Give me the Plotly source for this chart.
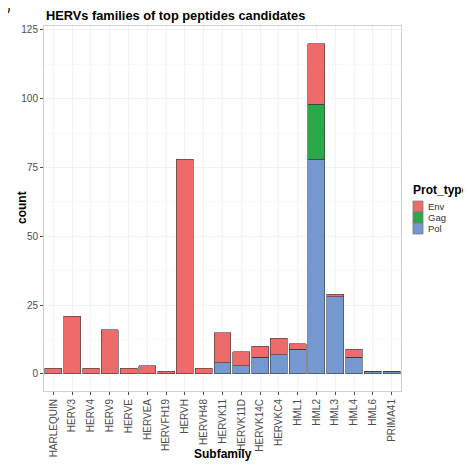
import plotly.graph_objects as go

subfamilies = ['HARLEQUIN', 'HERV3', 'HERV4', 'HERV9', 'HERVE', 'HERVEA', 'HERVFH19',
               'HERVH', 'HERVH48', 'HERVK11', 'HERVK11D', 'HERVK14C', 'HERVKC4',
               'HML1', 'HML2', 'HML3', 'HML4', 'HML6', 'PRIMA41']
pol = [0, 0, 0, 0, 0, 0, 0, 0, 0, 4, 3, 6, 7, 9, 78, 28, 6, 1, 1]
gag = [0, 0, 0, 0, 0, 0, 0, 0, 0, 0, 0, 0, 0, 0, 20, 0, 0, 0, 0]
env = [2, 21, 2, 16, 2, 3, 1, 78, 2, 11, 5, 4, 6, 2, 22, 1, 3, 0, 0]

colors = {'Env': '#EF6B6B', 'Gag': '#2BA84A', 'Pol': '#7598D0'}

# page body has an 8px margin, so the figure is a bit smaller and coords are shifted
OFF = 8
FW, FH = 471 - OFF, 469 - OFF
# panel in page pixels
L, R, T, B = 44, 401, 26, 391
W, H = R - L, B - T
def px(x):
    return (x - L) / W
def py(y):
    return (B - y) / H

fig = go.Figure()
# stack bottom to top: Pol, Gag, Env
for name, vals in [('Pol', pol), ('Gag', gag), ('Env', env)]:
    fig.add_trace(go.Bar(x=subfamilies, y=vals, name=name, showlegend=False,
                         marker=dict(color=colors[name],
                                     line=dict(color='#3a3a3a', width=0.6)),
                         width=0.9))

axis_font = dict(family='Liberation Sans, Arial', size=10, color='#4d4d4d')
fig.update_layout(
    barmode='stack',
    width=FW, height=FH,
    margin=dict(l=L - OFF, r=471 - R, t=T - OFF, b=469 - B),
    plot_bgcolor='white', paper_bgcolor='white',
    font=dict(family='Liberation Sans, Arial', color='black'),
    title=dict(text='<b>HERVs families of top peptides candidates</b>',
               x=(46 - OFF) / FW, xanchor='left', y=1 - (16 - OFF) / FH, yanchor='middle',
               font=dict(size=12.8, color='black')),
)
fig.update_xaxes(automargin=False, tickangle=-90, tickfont=axis_font, ticks='outside', ticklen=3,
                 tickcolor='#4d4d4d', showgrid=True, gridcolor='#F2F2F2', gridwidth=1,
                 showline=True, linecolor='#D0D0D0', linewidth=1, mirror=True)
fig.update_yaxes(automargin=False, range=[-6.2, 126.4], tickvals=[0, 25, 50, 75, 100, 125],
                 tickfont=axis_font, ticks='outside', ticklen=3, tickcolor='#4d4d4d',
                 showgrid=True, gridcolor='#F2F2F2', gridwidth=1, zeroline=False,
                 minor=dict(tickvals=[12.5, 37.5, 62.5, 87.5, 112.5], showgrid=True,
                            gridcolor='#F8F8F8', ticks=''),
                 showline=True, linecolor='#D0D0D0', linewidth=1, mirror=True)

# axis titles
fig.add_annotation(text='<b>Subfamily</b>', xref='paper', yref='paper', x=px(223), y=py(463),
                   showarrow=False, font=dict(size=12, color='black'))
fig.add_annotation(text='<b>count</b>', xref='paper', yref='paper', x=px(13), y=py(208),
                   textangle=-90, showarrow=False, font=dict(size=12, color='black'))
# cut-off panel tag
fig.add_annotation(text='D', xref='paper', yref='paper', x=px(OFF + 4), y=py(OFF + 2),
                   xanchor='right', yanchor='middle', showarrow=False,
                   font=dict(size=13, color='black'))

# manual legend
fig.add_annotation(text='<b>Prot_type</b>', xref='paper', yref='paper', x=px(412), y=py(190),
                   xanchor='left', yanchor='middle', showarrow=False, borderpad=0,
                   font=dict(size=12, color='black'))
for i, name in enumerate(['Env', 'Gag', 'Pol']):
    y0 = 201 + i * 11
    fig.add_shape(type='rect', xref='paper', yref='paper',
                  x0=px(413), x1=px(423), y0=py(y0), y1=py(y0 + 11),
                  fillcolor=colors[name], line=dict(color='#7a7a7a', width=0.8))
    fig.add_annotation(text=name, xref='paper', yref='paper', x=px(427), y=py(y0 + 5.5),
                       xanchor='left', yanchor='middle', showarrow=False, borderpad=0,
                       font=dict(size=9.5, color='#333333'))

fig.write_html('out.html')
